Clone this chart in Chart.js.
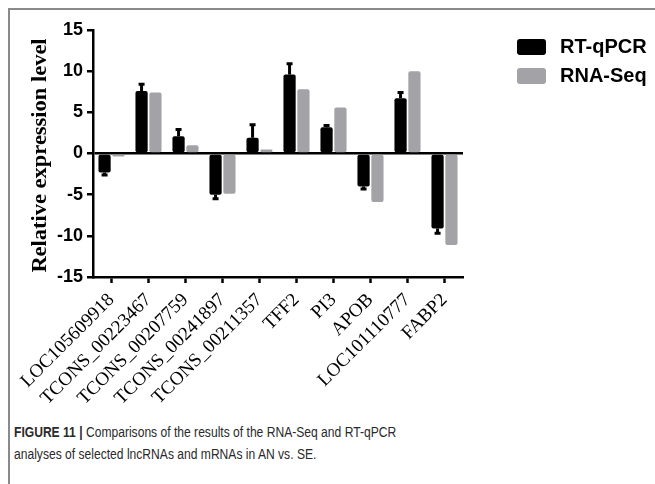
<!DOCTYPE html>
<html>
<head>
<meta charset="utf-8">
<script src="https://cdn.jsdelivr.net/npm/chart.js@4"></script>
<style>
    html, body { margin: 0; padding: 0; background: #fff; }
    body { width: 655px; height: 484px; position: relative; overflow: hidden; }
    #frame { position: absolute; left: 8px; top: 8px; right: -10px; bottom: -10px;
             border-left: 2px solid #8a8a8a; border-top: 2px solid #8a8a8a; }
    #chart { position: absolute; left: 0; top: 0; }
    .legend-item { position: absolute; left: 517px; height: 16px; }
    .legend-box { position: absolute; left: 0; top: 0; width: 29px; height: 16px; border-radius: 3px; }
    .legend-text { position: absolute; left: 43px; top: -4px; font: bold 20px "Liberation Sans", Arial, sans-serif;
                   color: #000; white-space: nowrap; }
    #caption { position: absolute; left: 14px; top: 421px; font: 15.5px "Liberation Sans", Arial, sans-serif;
               color: #2a2a2a; line-height: 22px; white-space: nowrap;
               transform: scaleX(0.78); transform-origin: left top; }
</style>
</head>
<body>
<div id="frame"></div>
<canvas id="chart" width="655" height="420"></canvas>
<div class="legend-item" style="top:39px"><div class="legend-box" style="background:#000"></div><div class="legend-text">RT-qPCR</div></div>
<div class="legend-item" style="top:68px"><div class="legend-box" style="background:#a3a3a7"></div><div class="legend-text">RNA-Seq</div></div>
<div id="caption"><b>FIGURE 11 |</b> Comparisons of the results of the RNA-Seq and RT-qPCR<br>analyses of selected lncRNAs and mRNAs in AN vs. SE.</div>
<script>
    // Genes on the x axis
    var genes = [
        'LOC105609918', 'TCONS_00223467', 'TCONS_00207759', 'TCONS_00241897',
        'TCONS_00211357', 'TFF2', 'PI3', 'APOB', 'LOC101110777', 'FABP2'
    ];

    // Relative expression levels
    var rtqpcr = [-2.3, 7.6, 2.1, -5.0, 1.9, 9.6, 3.2, -4.0, 6.7, -9.1];
    var rtqpcrErr = [0.3, 0.8, 0.8, 0.5, 1.6, 1.3, 0.2, 0.3, 0.7, 0.6];
    var rnaseq = [-0.35, 7.4, 1.0, -4.9, 0.5, 7.8, 5.6, -5.9, 10.0, -11.1];

    // Y axis ticks
    var yTicks = [-15, -10, -5, 0, 5, 10, 15];
    var yTitle = 'Relative expression level';

    // Error bars on RT-qPCR (one-sided, away from zero)
    var errorBars = {
        id: 'errorBars',
        afterDatasetsDraw: function(chart) {
            var ctx = chart.ctx;
            var yScale = chart.scales.y;
            var meta = chart.getDatasetMeta(0);
            ctx.save();
            ctx.strokeStyle = '#000';
            ctx.lineWidth = 3;
            meta.data.forEach(function(bar, i) {
                var v = rtqpcr[i];
                var end = v + (v >= 0 ? rtqpcrErr[i] : -rtqpcrErr[i]);
                var y0 = yScale.getPixelForValue(v);
                var y1 = yScale.getPixelForValue(end);
                ctx.beginPath();
                ctx.moveTo(bar.x, y0);
                ctx.lineTo(bar.x, y1);
                ctx.moveTo(bar.x - 3, y1);
                ctx.lineTo(bar.x + 3, y1);
                ctx.stroke();
            });
            ctx.restore();
        }
    };

    // Y axis title, centred on the plot height (slightly stretched like the original)
    var yAxisTitle = {
        id: 'yAxisTitle',
        afterDraw: function(chart) {
            var ctx = chart.ctx;
            var area = chart.chartArea;
            ctx.save();
            ctx.translate(41, (area.top + area.bottom) / 2 + 2);
            ctx.rotate(-Math.PI / 2);
            ctx.scale(1.07, 1);
            ctx.font = 'bold 21px "Liberation Serif", "Times New Roman", serif';
            ctx.fillStyle = '#000';
            ctx.textAlign = 'center';
            ctx.textBaseline = 'middle';
            ctx.fillText(yTitle, 0, 0);
            ctx.restore();
        }
    };

    new Chart(document.getElementById('chart'), {
        type: 'bar',
        data: {
            labels: genes,
            datasets: [
                { label: 'RT-qPCR', data: rtqpcr, backgroundColor: '#000', borderRadius: 2, borderSkipped: false },
                { label: 'RNA-Seq', data: rnaseq, backgroundColor: '#a3a3a7', borderRadius: 2, borderSkipped: false }
            ]
        },
        options: {
            responsive: false,
            animation: false,
            devicePixelRatio: 1,
            layout: { padding: { left: 0, top: 30, right: 192, bottom: 0 } },
            datasets: { bar: { categoryPercentage: 0.75, barPercentage: 0.88 } },
            plugins: { legend: { display: false }, tooltip: { enabled: false } },
            scales: {
                x: {
                    afterFit: function(scale) { scale.height = 143; },
                    grid: { offset: false, drawOnChartArea: false, drawTicks: true, tickLength: 6,
                            tickColor: '#000', tickWidth: 2.5 },
                    border: { color: '#000', width: 2.5 },
                    ticks: {
                        minRotation: 45, maxRotation: 45, autoSkip: false, padding: 6,
                        color: '#000', font: { family: '"Liberation Serif", "Times New Roman", serif', size: 19 }
                    }
                },
                y: {
                    min: -15, max: 15,
                    afterFit: function(scale) { scale.width = 93; },
                    afterBuildTicks: function(scale) {
                        scale.ticks = yTicks.map(function(v) { return { value: v }; });
                    },
                    grid: {
                        color: function(c) { return c.tick && c.tick.value === 0 ? '#000' : 'rgba(0,0,0,0)'; },
                        lineWidth: 2.5, tickColor: '#000', tickWidth: 2.5, tickLength: 6
                    },
                    border: { color: '#000', width: 2.5 },
                    ticks: {
                        padding: 4, color: '#000',
                        font: { family: '"Liberation Sans", Arial, sans-serif', size: 18, weight: 'bold' }
                    }
                }
            }
        },
        plugins: [errorBars, yAxisTitle]
    });
</script>
</body>
</html>
